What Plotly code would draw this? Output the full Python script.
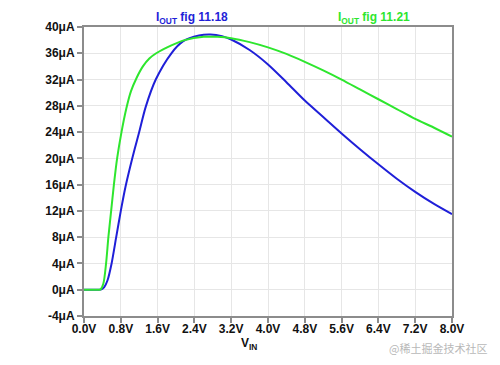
import plotly.graph_objects as go

# Blue: IOUT fig 11.18
vin_a = [0.0, 0.3, 0.38, 0.44, 0.51, 0.6, 0.7, 0.8, 0.9, 1.0, 1.1, 1.2, 1.34, 1.56, 1.9, 2.15,
         2.5, 2.75, 3.0, 3.2, 3.6, 4.0, 4.4, 4.8, 5.2, 5.6, 6.0, 6.4, 6.8, 7.2, 7.6, 8.0]
iout_a = [0.0, 0.0, 0.05, 0.4, 1.4, 4.0, 8.0, 12.0, 15.6, 18.6, 21.4, 24.0, 27.8, 32.0, 36.0, 37.8,
          38.7, 38.85, 38.6, 38.1, 36.5, 34.3, 31.6, 28.8, 26.3, 23.8, 21.4, 19.1, 16.9, 14.9, 13.1, 11.5]

# Green: IOUT fig 11.21
vin_b = [0.0, 0.3, 0.36, 0.42, 0.48, 0.53, 0.59, 0.65, 0.72, 0.815, 0.92, 1.02, 1.14, 1.28, 1.42,
         1.57, 1.9, 2.19, 2.6, 2.9, 3.2, 3.6, 4.0, 4.4, 4.8, 5.2, 5.6, 6.0, 6.4, 6.8, 7.2, 7.6, 8.0]
iout_b = [0.0, 0.0, 0.05, 0.9, 4.0, 8.0, 12.0, 16.0, 20.0, 24.0, 27.6, 30.2, 32.2, 34.0, 35.2,
          36.0, 37.2, 38.0, 38.5, 38.5, 38.3, 37.7, 36.9, 35.9, 34.7, 33.4, 32.0, 30.5, 29.0, 27.5,
          26.0, 24.7, 23.3]

x_ticks = [0.0, 0.8, 1.6, 2.4, 3.2, 4.0, 4.8, 5.6, 6.4, 7.2, 8.0]
y_ticks = [-4, 0, 4, 8, 12, 16, 20, 24, 28, 32, 36, 40]

BLUE = "#1f1fd8"
GREEN = "#2ee62e"
FONT = "Liberation Sans"

fig = go.Figure()
fig.add_trace(go.Scatter(x=vin_a, y=iout_a, mode="lines",
                         line=dict(color=BLUE, width=2, shape="spline", smoothing=0.8)))
fig.add_trace(go.Scatter(x=vin_b, y=iout_b, mode="lines",
                         line=dict(color=GREEN, width=2, shape="spline", smoothing=0.8)))

axis_common = dict(showline=True, linecolor="#8c8c8c", linewidth=2, mirror=True,
                   showgrid=True, gridcolor="#e6e6e6", gridwidth=1, zeroline=False,
                   ticks="outside", ticklen=5, tickcolor="#8c8c8c", tickwidth=2,
                   tickfont=dict(family=FONT, size=12, color="#111111", weight="bold"))

fig.update_xaxes(range=[0, 8], tickvals=x_ticks, ticklabelstandoff=-4,
                 ticktext=[f"{v:.1f}V" for v in x_ticks], **axis_common)
fig.update_yaxes(range=[-4, 40], tickvals=y_ticks,
                 ticktext=[f"{v}μA" for v in y_ticks], **axis_common)

# page body has an 8px margin, so the figure is made 8px smaller and margins shifted
fig.update_layout(
    width=492, height=357,
    margin=dict(l=76, r=48, t=14, b=49),
    paper_bgcolor="white", plot_bgcolor="white",
    showlegend=False,
    font=dict(family=FONT),
    annotations=[
        dict(text="<b>I<sub>OUT</sub> fig 11.18</b>", x=0.293, y=1.032, xref="paper", yref="paper",
             xanchor="center", yanchor="middle", showarrow=False,
             font=dict(color=BLUE, size=12, family=FONT)),
        dict(text="<b>I<sub>OUT</sub> fig 11.21</b>", x=0.787, y=1.032, xref="paper", yref="paper",
             xanchor="center", yanchor="middle", showarrow=False,
             font=dict(color=GREEN, size=12, family=FONT)),
        dict(text="<b>V<sub>IN</sub></b>", x=0.448, y=-0.098, xref="paper", yref="paper",
             xanchor="center", yanchor="middle", showarrow=False,
             font=dict(color="#111111", size=12, family=FONT)),
        dict(text="@稀土掘金技术社区", x=1.10, y=-0.109, xref="paper", yref="paper",
             xanchor="right", yanchor="middle", showarrow=False,
             font=dict(color="#b8b8b8", size=11, family="Noto Sans CJK SC")),
    ],
)

fig.write_html("out.html")
